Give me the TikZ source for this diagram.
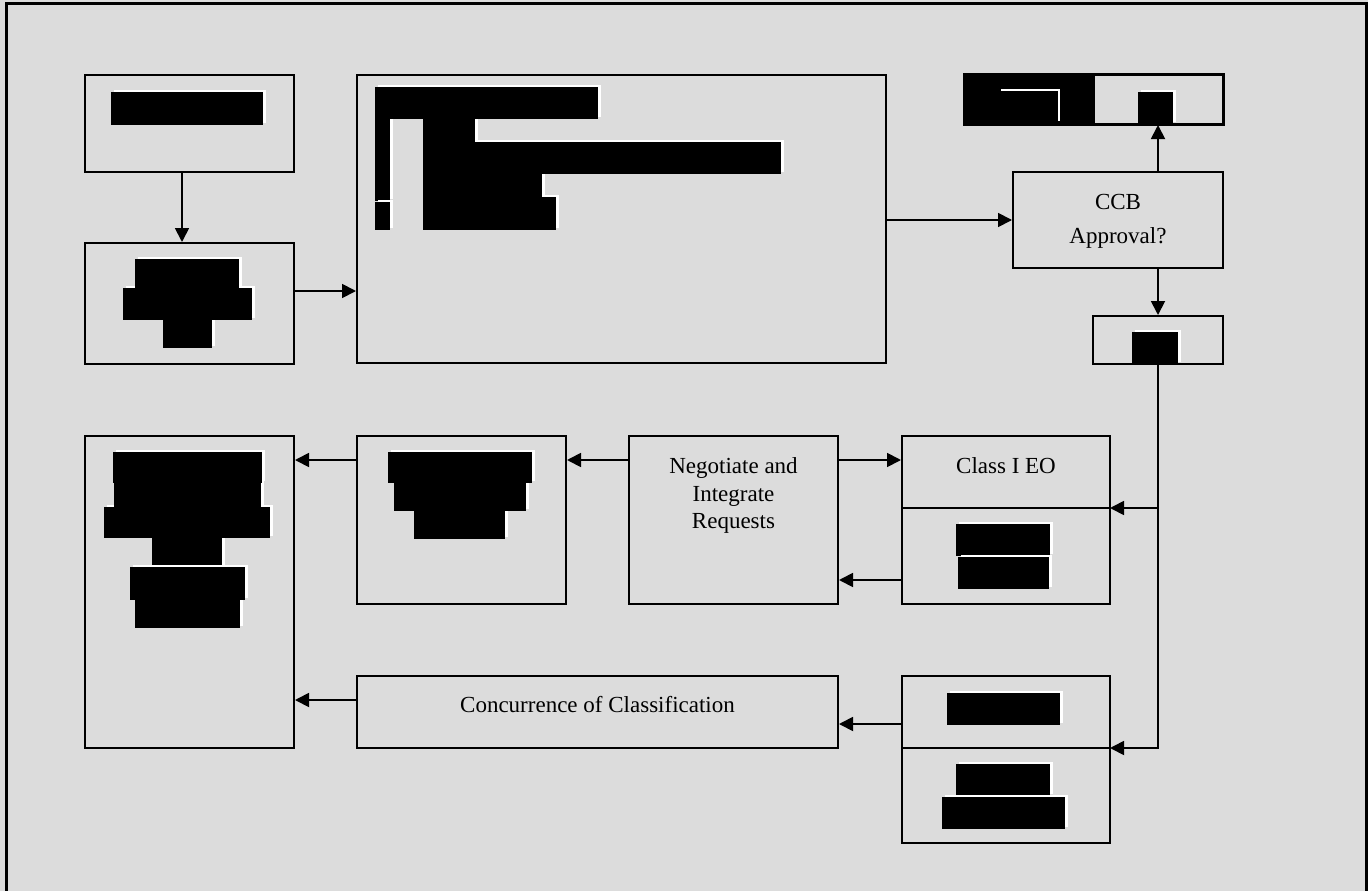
\documentclass[tikz,border=0pt]{standalone}
\usepackage{fontspec}
\setmainfont{Liberation Serif}
\usepackage{tikz}
\usetikzlibrary{arrows.meta}
\definecolor{bggray}{RGB}{220,220,220}
\tikzset{box/.style={draw, line width=2pt, fill=bggray, inner sep=0pt},
 conn/.style={line width=1.8pt, -{Triangle[length=14pt,width=14pt]}},
 plain/.style={line width=1.8pt},
 lbl/.style={font=\fontsize{23}{27.5}\selectfont, align=center, inner sep=0pt},
 }
% black block with its white edge
\newcommand{\blackout}[4]{%
  \fill[white] (#1+2.5,#2-2) rectangle (#3+2.5,#4-2);
  \fill[black] (#1,#2) rectangle (#3,#4);}

\begin{document}
\begin{tikzpicture}[x=1pt, y=-1pt]
        \useasboundingbox (0,0) rectangle (1368,891);
        \fill[bggray] (0,0) rectangle (1368,891);
        \draw[line width=3pt] (6.5,4) rectangle (1366.5,900);

        % top row
        \node[box, minimum width=209pt, minimum height=97pt] (src) at (189.5,123.5) {};
        \node[box, minimum width=209pt, minimum height=121pt] (sel) at (189.5,303.5) {};
        \node[box, minimum width=529pt, minimum height=288pt] (desc) at (621.5,219) {};
        \node[box, minimum width=258pt, minimum height=49pt] (disp) at (1094,99.5) {};
        \node[box, minimum width=210pt, minimum height=96pt] (ccb) at (1118,220) {};
        \node[box, minimum width=130pt, minimum height=48pt] (yes) at (1158,340) {};

        % lower rows
        \node[box, minimum width=209pt, minimum height=312pt] (rec) at (189.5,592) {};
        \node[box, minimum width=209pt, minimum height=168pt] (pkg) at (461.5,520) {};
        \node[box, minimum width=209pt, minimum height=168pt] (neg) at (733.5,520) {};
        \node[box, minimum width=208pt, minimum height=168pt] (cls) at (1006,520) {};
        \node[box, minimum width=481pt, minimum height=72pt] (conc) at (597.5,712) {};
        \node[box, minimum width=208pt, minimum height=167pt] (clsb) at (1006,759.5) {};

        \coordinate (clsdiv) at (1110,508);
        \coordinate (clsbdiv) at (1110,748);
        \draw[plain] (clsdiv -| cls.west) -- (clsdiv);
        \draw[plain] (clsbdiv -| clsb.west) -- (clsbdiv);

        % texts
        \node[lbl, font=\fontsize{23}{34}\selectfont] (ccbtxt) at (1118,221) {CCB\\Approval?};
        \node[lbl] (negtxt) at (733.5,495.5) {Negotiate and\\Integrate\\Requests};
        \node[lbl] (clstxt) at (1006,466) {Class I EO};
        \node[lbl] (conctxt) at (597.5,705) {Concurrence of Classification};

        % black blocks
        \blackout{111}{92}{263}{125}
        \blackout{163}{320}{212}{348}
        \blackout{123}{288}{252}{320}
        \blackout{135}{259}{239}{288}
        \blackout{423}{197}{556}{230}
        \blackout{423}{174}{542}{197}
        \blackout{423}{142}{781}{174}
        \blackout{423}{119}{475}{142}
        \blackout{375}{119}{390}{201}
        \blackout{375}{202}{390}{230}
        \blackout{375}{87}{598}{119}
        \fill[black] (965,75) rectangle (1095,124);
        \draw[white, line width=1.5pt] (1001,90) -- (1059,90) -- (1059,121);
        \blackout{1138}{92}{1173}{124}
        \blackout{1132}{332}{1178}{364}
        \blackout{152}{538}{222}{567}
        \blackout{104}{507}{270}{538}
        \blackout{114}{483}{261}{507}
        \blackout{113}{452}{262}{483}
        \blackout{135}{600}{240}{628}
        \blackout{130}{567}{245}{600}
        \blackout{414}{511}{505}{539}
        \blackout{394}{483}{526}{511}
        \blackout{388}{452}{532}{483}
        \blackout{956}{524}{1050}{556}
        \blackout{958}{557}{1049}{589}
        \blackout{947}{693}{1060}{725}
        \blackout{956}{764}{1050}{796}
        \blackout{942}{797}{1065}{829}
        \draw[line width=2pt] (disp.north west) rectangle (disp.south east);

        % connectors
        \draw[conn] ([xshift=-7.5pt]src.south) -- ([xshift=-7.5pt]sel.north);
        \draw[conn] ([yshift=12.5pt]sel.east) -- ([yshift=12.5pt]sel.east -| desc.west);
        \draw[conn] (desc.east |- ccb.west) -- (ccb.west);
        \draw[conn] ([xshift=40pt]ccb.north) -- ([xshift=40pt]ccb.north |- disp.south);
        \draw[conn] ([xshift=40pt]ccb.south) -- (yes.north);
        \draw[conn] (yes.south) |- (clsbdiv);
        \draw[conn] (yes.south |- clsdiv) -- (clsdiv);
        \draw[conn] ([yshift=60pt]neg.east) -- ([yshift=60pt]neg.east -| cls.west);
        \draw[conn] ([yshift=-60pt]cls.west) -- ([yshift=-60pt]cls.west -| neg.east);
        \draw[conn] ([yshift=60pt]neg.west) -- ([yshift=60pt]neg.west -| pkg.east);
        \draw[conn] ([yshift=60pt]pkg.west) -- ([yshift=60pt]pkg.west -| rec.east);
        \draw[conn] ([yshift=12pt]conc.west) -- ([yshift=12pt]conc.west -| rec.east);
        \draw[conn] ([yshift=35.5pt]clsb.west) -- ([yshift=35.5pt]clsb.west -| conc.east);
    \end{tikzpicture}
\end{document}
